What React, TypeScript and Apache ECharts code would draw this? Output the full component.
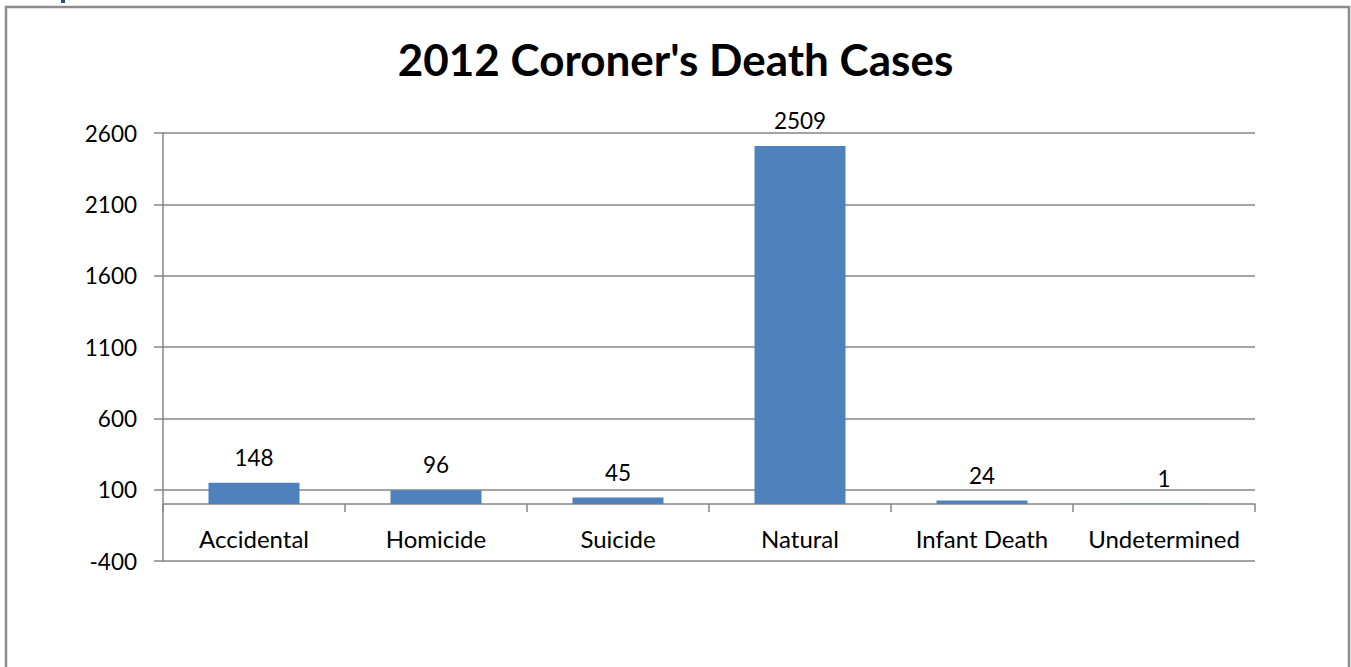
import React, { useEffect, useRef } from "react";
import * as echarts from "echarts";

const titleText = "2012 Coroner's Death Cases";
const categories = ["Accidental", "Homicide", "Suicide", "Natural", "Infant Death", "Undetermined"];
const cases = [148, 96, 45, 2509, 24, 1];
const yMin = -400;
const yMax = 2600;
const yInterval = 500;

const FONT = "Lato, 'Open Sans', sans-serif";
const GRAY = "#868686";

export default function App() {
  const ref = useRef<HTMLDivElement>(null);
  useEffect(() => {
    if (!ref.current) return;
    const chart = echarts.init(ref.current, null, { renderer: "svg" });
    chart.setOption({
      animation: false,
      backgroundColor: "#ffffff",
      textStyle: { fontFamily: FONT },
      title: {
        text: titleText,
        left: "center",
        top: 32,
        textStyle: { fontFamily: FONT, fontSize: 44, fontWeight: "bold", color: "#000" },
      },
      graphic: [
        {
          type: "rect",
          shape: { x: 6, y: 7, width: 1343, height: 700 },
          style: { fill: "none", stroke: "#8c8c8c", lineWidth: 2.5 },
          silent: true,
          z: 100,
        },
        {
          type: "rect",
          shape: { x: 61, y: 0, width: 4, height: 3 },
          style: { fill: "#2f4a7f" },
          silent: true,
        },
      ],
      grid: { left: 163, right: 96, top: 133, bottom: 106, containLabel: false },
      xAxis: {
        type: "category",
        data: categories,
        axisLine: { show: true, onZero: true, lineStyle: { color: GRAY, width: 1.5 } },
        axisTick: { show: true, length: 8, alignWithLabel: false, lineStyle: { color: GRAY, width: 1.5 } },
        axisLabel: { fontSize: 24, color: "#000", margin: -35, fontFamily: FONT, interval: 0 },
      },
      yAxis: {
        type: "value",
        min: yMin,
        max: yMax,
        interval: yInterval,
        axisLine: { show: true, lineStyle: { color: GRAY, width: 1.5 } },
        axisTick: { show: true, length: 9, lineStyle: { color: GRAY, width: 1.5 } },
        axisLabel: {
          fontSize: 22.5,
          color: "#000",
          margin: 26,
          fontFamily: FONT,
          formatter: (v: number) => String(v),
        },
        splitLine: { show: true, lineStyle: { color: GRAY, width: 1.5 } },
      },
      series: [
        {
          type: "bar",
          data: cases,
          barWidth: "50%",
          itemStyle: { color: "#4F81BD" },
          label: {
            show: true,
            position: "top",
            distance: 14,
            fontSize: 22.5,
            color: "#000",
            fontFamily: FONT,
          },
        },
      ],
    });
    return () => chart.dispose();
  }, []);
  return (
    <div
      ref={ref}
      style={{ position: "absolute", left: 0, top: 0, width: 1351, height: 667 }}
    />
  );
}
